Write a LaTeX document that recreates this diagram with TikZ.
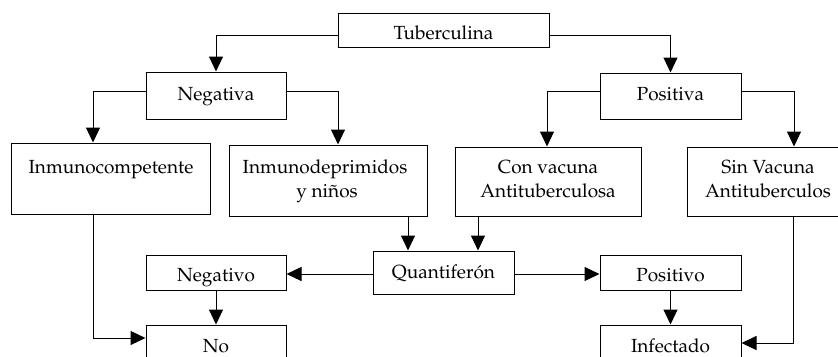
\documentclass[tikz,border=0pt]{standalone}
\usepackage[T1]{fontenc}
\usepackage{mathpazo}
\usetikzlibrary{arrows.meta}
\tikzset{
  box/.style={draw, line width=1bp, inner sep=0pt, fill=white},
  lbl/.style={anchor=base, inner sep=0pt, font=\fontsize{19bp}{23bp}\selectfont},
  arr/.style={line width=1bp, -{Triangle[length=15bp,width=14bp]}},
}
\begin{document}
\begin{tikzpicture}[x=1bp,y=-1bp]
\clip (0,0) rectangle (838,356);
\fill[white] (0,0) rectangle (838,356);
% boxes
\node[box, minimum width=211bp, minimum height=34bp] (tub) at (443.5,30) {};
\node[box, minimum width=140bp, minimum height=47bp] (neg) at (216,95.5) {};
\node[box, minimum width=141bp, minimum height=46bp] (pos) at (670.5,96) {};
\node[box, minimum width=198bp, minimum height=71bp] (inmc) at (111,178.5) {};
\node[box, minimum width=198bp, minimum height=71bp] (inmd) at (328,180.5) {};
\node[box, minimum width=186bp, minimum height=69bp] (conv) at (548,181.5) {};
\node[box, minimum width=162bp, minimum height=69bp] (sinv) at (768,181.5) {};
\node[box, minimum width=141bp, minimum height=43bp] (quant) at (443.5,272.5) {};
\node[box, minimum width=140bp, minimum height=35bp] (negv) at (216,272.5) {};
\node[box, minimum width=141bp, minimum height=35bp] (posv) at (670.5,272.5) {};
\node[box, minimum width=140bp, minimum height=40bp] (no) at (216,345) {};
\node[box, minimum width=141bp, minimum height=40bp] (inf) at (670.5,345) {};
% texts
\node[lbl] (tubt) at (443.5,39) {Tuberculina};
\node[lbl] (negt) at (216,100) {Negativa};
\node[lbl] (post) at (670.5,100) {Positiva};
\node[lbl] (inmct) at (111,173) {Inmunocompetente};
\node[lbl] (inmdt) at (325,173) {Inmunodeprimidos};
\node[lbl] (inmdt2) at (327,197) {y ni\~nos};
\node[lbl] (convt) at (548,173) {Con vacuna};
\node[lbl] (convt2) at (548,197) {Antituberculosa};
\node[lbl] (sinvt) at (768,173) {Sin Vacuna};
\node[lbl] (sinvt2) at (768,197) {Antituberculos};
\node[lbl] (quantt) at (443.5,278) {Quantifer\'on};
\node[lbl] (negvt) at (216,281) {Negativo};
\node[lbl] (posvt) at (670.5,281) {Positivo};
\node[lbl] (not) at (216,352) {No};
\node[lbl] (inft) at (670.5,352) {Infectado};
% connectors
\draw[arr] ([yshift=-5bp]tub.west) -| (neg.north);
\draw[arr] ([yshift=-5bp]tub.east) -| (pos.north);
\draw[arr] ([yshift=4.5bp]neg.west) -| ([xshift=-18bp]inmc.north);
\draw[arr] ([yshift=4.5bp]neg.east) -| ([xshift=10bp]inmd.north);
\draw[arr] ([yshift=5bp]pos.west) -| ([xshift=-1bp]conv.north);
\draw[arr] ([yshift=5bp]pos.east) -| ([xshift=26bp]sinv.north);
\draw[arr] ([xshift=80bp]inmd.south) -- ([xshift=80bp]inmd.south |- quant.north);
\draw[arr] ([xshift=-70bp]conv.south) -- ([xshift=-70bp]conv.south |- quant.north);
\draw[arr] ([yshift=-1.5bp]quant.west) -- ([yshift=-1.5bp]quant.west -| negv.east);
\draw[arr] ([yshift=-1.5bp]quant.east) -- ([yshift=-1.5bp]quant.east -| posv.west);
\draw[arr] (negv.south) -- (no.north);
\draw[arr] (posv.south) -- (inf.north);
\draw[arr] ([xshift=-18bp]inmc.south) |- ([yshift=7bp]no.west);
\draw[arr] ([xshift=25bp]sinv.south) |- ([yshift=2bp]inf.east);
\end{tikzpicture}
\end{document}
